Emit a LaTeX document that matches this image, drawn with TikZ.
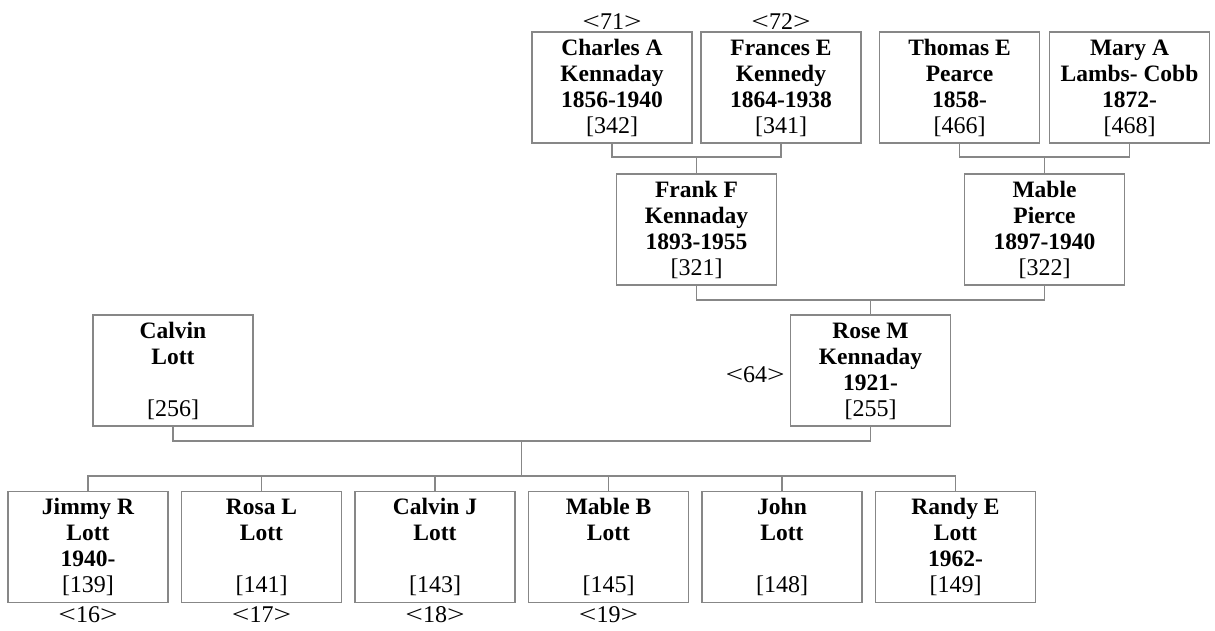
\documentclass[tikz,border=0pt]{standalone}
\usepackage{fontspec}
\setmainfont{Liberation Serif}
\definecolor{linegray}{RGB}{135,135,135}
\newcommand\personbox[4]{\parbox[c][111pt][t]{160pt}{\centering
  \fontsize{23.5}{26}\selectfont\bfseries\rule{0pt}{23pt}#1\\\mbox{}#2\\\mbox{}#3\\
  \mdseries\fontsize{24}{26}\selectfont\mbox{}#4}}
\newcommand\ltsign{\scalebox{1.3}[1]{<}}
\newcommand\gtsign{\scalebox{1.3}[1]{>}}
\tikzset{
  person/.style={draw=linegray, line width=1.1pt, inner sep=0pt, rectangle},
  link/.style={draw=linegray, line width=1.1pt},
  refnum/.style={inner sep=0pt, font=\fontsize{24}{27}\selectfont}
}
\begin{document}
\begin{tikzpicture}[x=1pt,y=-1pt]
\useasboundingbox (0,0) rectangle (1215,630);
% generation 1
\node[person] (charles) at (612,87.5) {\personbox{Charles A}{Kennaday}{1856-1940}{[342]}};
\node[person] (frances) at (781,87.5) {\personbox{Frances E}{Kennedy}{1864-1938}{[341]}};
\node[person] (thomas) at (959.5,87.5) {\personbox{Thomas E}{Pearce}{1858-}{[466]}};
\node[person] (mary) at (1129.5,87.5) {\personbox{Mary A}{Lambs- Cobb}{1872-}{[468]}};
\node[refnum, anchor=base] (l71) at (612,29) {\ltsign71\gtsign};
\node[refnum, anchor=base] (l72) at (781,29) {\ltsign72\gtsign};
% generation 2
\node[person] (frank) at (696.5,229.5) {\personbox{Frank F}{Kennaday}{1893-1955}{[321]}};
\node[person] (mable) at (1044.5,229.5) {\personbox{Mable}{Pierce}{1897-1940}{[322]}};
% generation 3
\node[person] (calvin) at (173,370.5) {\personbox{Calvin}{Lott}{}{[256]}};
\node[person] (rose) at (870.5,370.5) {\personbox{Rose M}{Kennaday}{1921-}{[255]}};
\node[refnum, anchor=base east] (l64) at (785,382) {\ltsign64\gtsign};
% generation 4
\node[person] (jimmy) at (88,547) {\personbox{Jimmy R}{Lott}{1940-}{[139]}};
\node[person] (rosa) at (261.5,547) {\personbox{Rosa L}{Lott}{}{[141]}};
\node[person] (calvinj) at (435,547) {\personbox{Calvin J}{Lott}{}{[143]}};
\node[person] (mableb) at (608.5,547) {\personbox{Mable B}{Lott}{}{[145]}};
\node[person] (john) at (782,547) {\personbox{John}{Lott}{}{[148]}};
\node[person] (randy) at (955.5,547) {\personbox{Randy E}{Lott}{1962-}{[149]}};
\node[refnum, anchor=base] (l16) at (88,622) {\ltsign16\gtsign};
\node[refnum, anchor=base] (l17) at (261.5,622) {\ltsign17\gtsign};
\node[refnum, anchor=base] (l18) at (435,622) {\ltsign18\gtsign};
\node[refnum, anchor=base] (l19) at (608.5,622) {\ltsign19\gtsign};
% junctions
\coordinate (j1) at (696.5,157);
\coordinate (j2) at (1044.5,157);
\coordinate (j3) at (870.5,300);
\coordinate (j4) at (521.75,441);
\coordinate (kids) at (521.75,476);
% connectors
\draw[link] (charles.south) |- (j1) -| (frances.south);
\draw[link] (j1) -- (frank.north);
\draw[link] (thomas.south) |- (j2) -| (mary.south);
\draw[link] (j2) -- (mable.north);
\draw[link] (frank.south) |- (j3) -| (mable.south);
\draw[link] (j3) -- (rose.north);
\draw[link] (calvin.south) |- (j4) -| (rose.south);
\draw[link] (j4) -- (kids);
\draw[link] (jimmy.north) |- (kids) -| (randy.north);
\draw[link] (rosa.north) -- (rosa.north |- kids);
\draw[link] (calvinj.north) -- (calvinj.north |- kids);
\draw[link] (mableb.north) -- (mableb.north |- kids);
\draw[link] (john.north) -- (john.north |- kids);
\end{tikzpicture}
\end{document}
